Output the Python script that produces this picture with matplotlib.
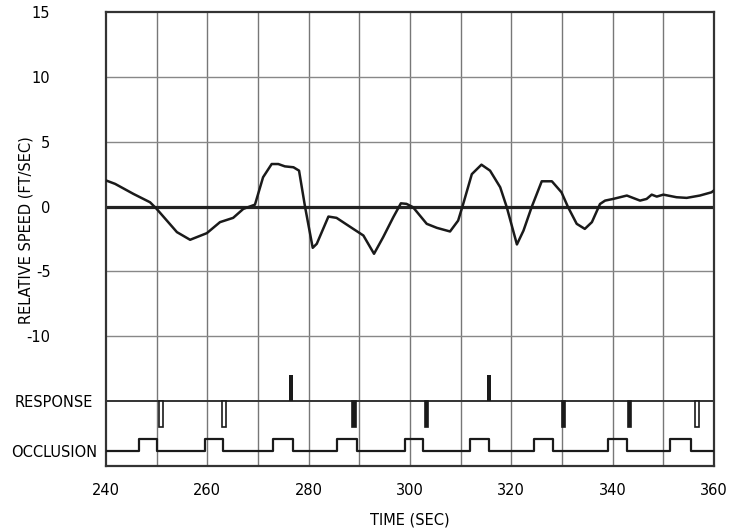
import matplotlib
matplotlib.use('Agg')
import matplotlib.pyplot as plt
import numpy as np

plt.rcParams['font.family'] = ['DejaVu Sans']

# relative speed trace (sec, ft/sec)
t_speed = [240.1, 241.8, 245.4, 248.7, 250.0, 254.0, 256.6, 259.9, 262.5, 265.1,
           267.1, 269.4, 271.0, 272.7, 274.0, 275.3, 277.0, 278.1, 279.3, 280.8,
           281.6, 283.9, 285.5, 288.8, 290.8, 292.9, 294.7, 296.7, 298.2, 299.3,
           300.6, 303.3, 305.3, 307.9, 309.5, 310.5, 312.2, 314.1, 315.8, 317.8,
           319.1, 321.1, 322.4, 324.0, 326.0, 328.0, 329.9, 331.2, 332.9, 334.5,
           335.9, 337.5, 338.5, 340.1, 342.8, 345.4, 346.7, 347.7, 348.7, 350.0,
           352.6, 354.6, 357.2, 359.5, 360.0]
v_speed = [2.0, 1.75, 0.98, 0.33, -0.18, -1.97, -2.56, -2.05, -1.2, -0.87,
           -0.18, 0.15, 2.26, 3.28, 3.28, 3.1, 3.03, 2.77, -0.05, -3.18,
           -2.87, -0.77, -0.87, -1.72, -2.23, -3.64, -2.36, -0.82, 0.25, 0.21,
           -0.05, -1.33, -1.64, -1.92, -1.08, 0.2, 2.5, 3.23, 2.77, 1.49,
           -0.05, -2.92, -1.85, -0.05, 1.95, 1.95, 1.1, -0.05, -1.33, -1.72,
           -1.2, 0.2, 0.46, 0.59, 0.85, 0.46, 0.59, 0.92, 0.77, 0.92,
           0.72, 0.67, 0.85, 1.1, 1.25]

# response marks
resp_up = [276.5, 315.6]
resp_down = [250.9, 263.3, 289.0, 303.3, 330.3, 343.3, 356.6]
resp_hollow = [250.9, 263.3, 356.6]

# occlusion pulses (start, end)
occ_on = [246.6, 259.5, 273.0, 285.6, 299.0, 311.8, 324.5, 339.1, 351.4]
occ_off = [250.0, 263.0, 277.0, 289.6, 302.5, 315.6, 328.3, 342.8, 355.4]

RESP_Y = -15
OCC_LOW, OCC_HIGH = -18.85, -17.9

fig = plt.figure(figsize=(7.33, 5.31), dpi=100)
ax = fig.add_axes([0.1446, 0.1224, 0.8295, 0.855])
ax.set_xlim(240, 360)
ax.set_ylim(-20, 15)

# grid
for x in range(250, 360, 10):
    ax.axvline(x, color='#777777', lw=1.0, zorder=1)
for y in [10, 5, -5, -10]:
    ax.axhline(y, color='#888888', lw=1.0, zorder=1)
ax.axhline(0, color='#222222', lw=2.3, zorder=2)
ax.axhline(RESP_Y, color='#333333', lw=1.4, zorder=2)

# speed curve
ax.plot(t_speed, v_speed, color='#1a1a1a', lw=1.8, zorder=3)

# response marks
ax.bar(resp_up, [2.0] * len(resp_up), bottom=RESP_Y, width=0.7,
       color='#1a1a1a', zorder=3)
for t in resp_down:
    face = 'white' if t in resp_hollow else '#1a1a1a'
    ax.bar(t, -2.0, bottom=RESP_Y, width=0.7, facecolor=face,
           edgecolor='#1a1a1a', lw=1.2, zorder=3)

# occlusion step signal
ox = [240.0]
oy = [OCC_LOW]
for a, b in zip(occ_on, occ_off):
    ox += [a, a, b, b]
    oy += [OCC_LOW, OCC_HIGH, OCC_HIGH, OCC_LOW]
ox.append(360.0)
oy.append(OCC_LOW)
ax.plot(ox, oy, color='#1a1a1a', lw=1.6, zorder=3)

for s in ax.spines.values():
    s.set_color('#333333')
    s.set_linewidth(1.6)

fs = 10.5
yt = [15, 10, 5, 0, -5, -10, RESP_Y, OCC_LOW]
yl = ['15', '10', '5', '0', '-5', '-10', 'RESPONSE', 'OCCLUSION']
ax.set_yticks(yt)
ax.set_yticklabels(yl, fontsize=fs)
ax.tick_params(axis='y', length=0)
for tk, lab in zip(ax.yaxis.get_major_ticks(), yl):
    tk.set_pad(6 if lab == 'OCCLUSION' else (9 if lab == 'RESPONSE' else 40))

ax.set_xticks(range(240, 361, 20))
ax.set_xticklabels([str(v) for v in range(240, 361, 20)], fontsize=fs)
ax.tick_params(axis='x', length=0, pad=12)

ax.set_xlabel('TIME (SEC)', fontsize=fs, labelpad=11)
ax.set_ylabel('RELATIVE SPEED (FT/SEC)', fontsize=fs)
ax.yaxis.set_label_coords(-0.12, 0.52)

fig.savefig('out.png', dpi=100)
